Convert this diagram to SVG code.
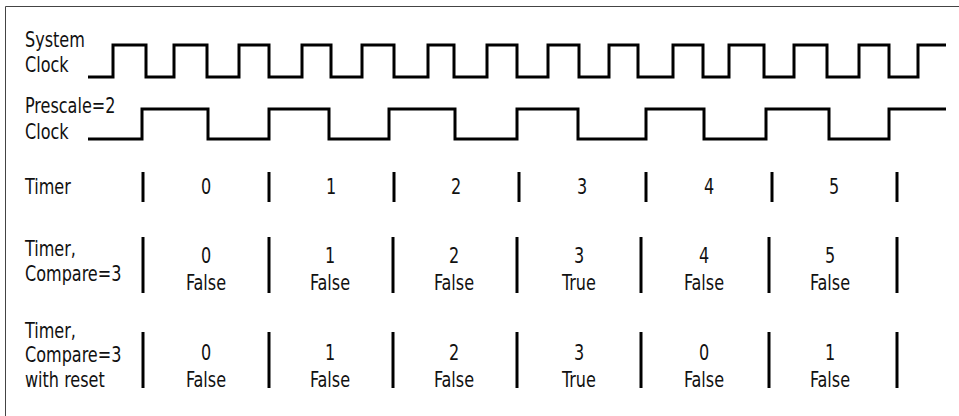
<svg xmlns="http://www.w3.org/2000/svg" width="959" height="416" viewBox="0 0 959 416">
<style>
text{font-family:"Liberation Sans Narrow","DejaVu Sans Condensed","Open Sans",sans-serif;font-stretch:condensed;font-size:21px;fill:#111}
.v{text-anchor:middle}
.sig{fill:none;stroke:#000;stroke-width:3;stroke-linejoin:miter}
.bar{stroke:#000;stroke-width:3}
</style>
<rect width="959" height="416" fill="#fff"/>
<path d="M5.5,416 V6.5 H959" fill="none" stroke="#444" stroke-width="1"/>
<g id="labels">
<text transform="translate(25,47) scale(0.85,1)">System</text>
<text transform="translate(25,72) scale(0.85,1)">Clock</text>
<text transform="translate(25,113) scale(0.85,1)">Prescale=2</text>
<text transform="translate(25,139) scale(0.85,1)">Clock</text>
<text transform="translate(25,194) scale(0.85,1)">Timer</text>
<text transform="translate(25,256) scale(0.85,1)">Timer,</text>
<text transform="translate(25,281) scale(0.85,1)">Compare=3</text>
<text transform="translate(25,338) scale(0.85,1)">Timer,</text>
<text transform="translate(25,362) scale(0.85,1)">Compare=3</text>
<text transform="translate(25,387) scale(0.85,1)">with reset</text>
</g>
<g id="connectors">
<path id="sysclk" class="sig" d="M88,77 H113 V45 H146 V77 H174 V45 H207 V77 H239 V45 H269 V77 H302 V45 H331 V77 H362 V45 H394 V77 H428 V45 H454 V77 H487 V45 H517 V77 H548 V45 H579 V77 H609 V45 H638 V77 H673 V45 H703 V77 H729 V45 H764 V77 H794 V45 H827 V77 H859 V45 H889 V77 H918 V45 H946"/>
<path id="preclk" class="sig" d="M88,139 H142 V109 H208 V139 H269 V109 H329 V139 H389 V109 H455 V139 H517 V109 H578 V139 H646 V109 H704 V139 H766 V109 H829 V139 H889 V109 H946"/>
<g id="timerbars">
<line class="bar" x1="143" y1="172" x2="143" y2="202"/>
<line class="bar" x1="269" y1="172" x2="269" y2="202"/>
<line class="bar" x1="394" y1="172" x2="394" y2="202"/>
<line class="bar" x1="519" y1="172" x2="519" y2="202"/>
<line class="bar" x1="646" y1="172" x2="646" y2="202"/>
<line class="bar" x1="772" y1="172" x2="772" y2="202"/>
<line class="bar" x1="897" y1="172" x2="897" y2="202"/>
</g>
<g id="comparebars">
<line class="bar" x1="143" y1="237" x2="143" y2="293"/>
<line class="bar" x1="269" y1="237" x2="269" y2="293"/>
<line class="bar" x1="393" y1="237" x2="393" y2="293"/>
<line class="bar" x1="517" y1="237" x2="517" y2="293"/>
<line class="bar" x1="641" y1="237" x2="641" y2="293"/>
<line class="bar" x1="769" y1="237" x2="769" y2="293"/>
<line class="bar" x1="897" y1="237" x2="897" y2="293"/>
</g>
<g id="resetbars">
<line class="bar" x1="143" y1="332" x2="143" y2="388"/>
<line class="bar" x1="269" y1="332" x2="269" y2="388"/>
<line class="bar" x1="393" y1="332" x2="393" y2="388"/>
<line class="bar" x1="517" y1="332" x2="517" y2="388"/>
<line class="bar" x1="641" y1="332" x2="641" y2="388"/>
<line class="bar" x1="769" y1="332" x2="769" y2="388"/>
<line class="bar" x1="897" y1="332" x2="897" y2="388"/>
</g>
</g>
<g id="timer-values">
<text class="v" transform="translate(206,194) scale(0.85,1)">0</text>
<text class="v" transform="translate(331,194) scale(0.85,1)">1</text>
<text class="v" transform="translate(456,194) scale(0.85,1)">2</text>
<text class="v" transform="translate(582,194) scale(0.85,1)">3</text>
<text class="v" transform="translate(709,194) scale(0.85,1)">4</text>
<text class="v" transform="translate(834,194) scale(0.85,1)">5</text>
</g>
<g id="compare-values">
<text class="v" transform="translate(206,263) scale(0.85,1)">0</text>
<text class="v" transform="translate(206,290) scale(0.85,1)">False</text>
<text class="v" transform="translate(330,263) scale(0.85,1)">1</text>
<text class="v" transform="translate(330,290) scale(0.85,1)">False</text>
<text class="v" transform="translate(454,263) scale(0.85,1)">2</text>
<text class="v" transform="translate(454,290) scale(0.85,1)">False</text>
<text class="v" transform="translate(579,263) scale(0.85,1)">3</text>
<text class="v" transform="translate(579,290) scale(0.85,1)">True</text>
<text class="v" transform="translate(704,263) scale(0.85,1)">4</text>
<text class="v" transform="translate(704,290) scale(0.85,1)">False</text>
<text class="v" transform="translate(830,263) scale(0.85,1)">5</text>
<text class="v" transform="translate(830,290) scale(0.85,1)">False</text>
</g>
<g id="reset-values">
<text class="v" transform="translate(206,360) scale(0.85,1)">0</text>
<text class="v" transform="translate(206,387) scale(0.85,1)">False</text>
<text class="v" transform="translate(330,360) scale(0.85,1)">1</text>
<text class="v" transform="translate(330,387) scale(0.85,1)">False</text>
<text class="v" transform="translate(454,360) scale(0.85,1)">2</text>
<text class="v" transform="translate(454,387) scale(0.85,1)">False</text>
<text class="v" transform="translate(579,360) scale(0.85,1)">3</text>
<text class="v" transform="translate(579,387) scale(0.85,1)">True</text>
<text class="v" transform="translate(704,360) scale(0.85,1)">0</text>
<text class="v" transform="translate(704,387) scale(0.85,1)">False</text>
<text class="v" transform="translate(830,360) scale(0.85,1)">1</text>
<text class="v" transform="translate(830,387) scale(0.85,1)">False</text>
</g>
</svg>
